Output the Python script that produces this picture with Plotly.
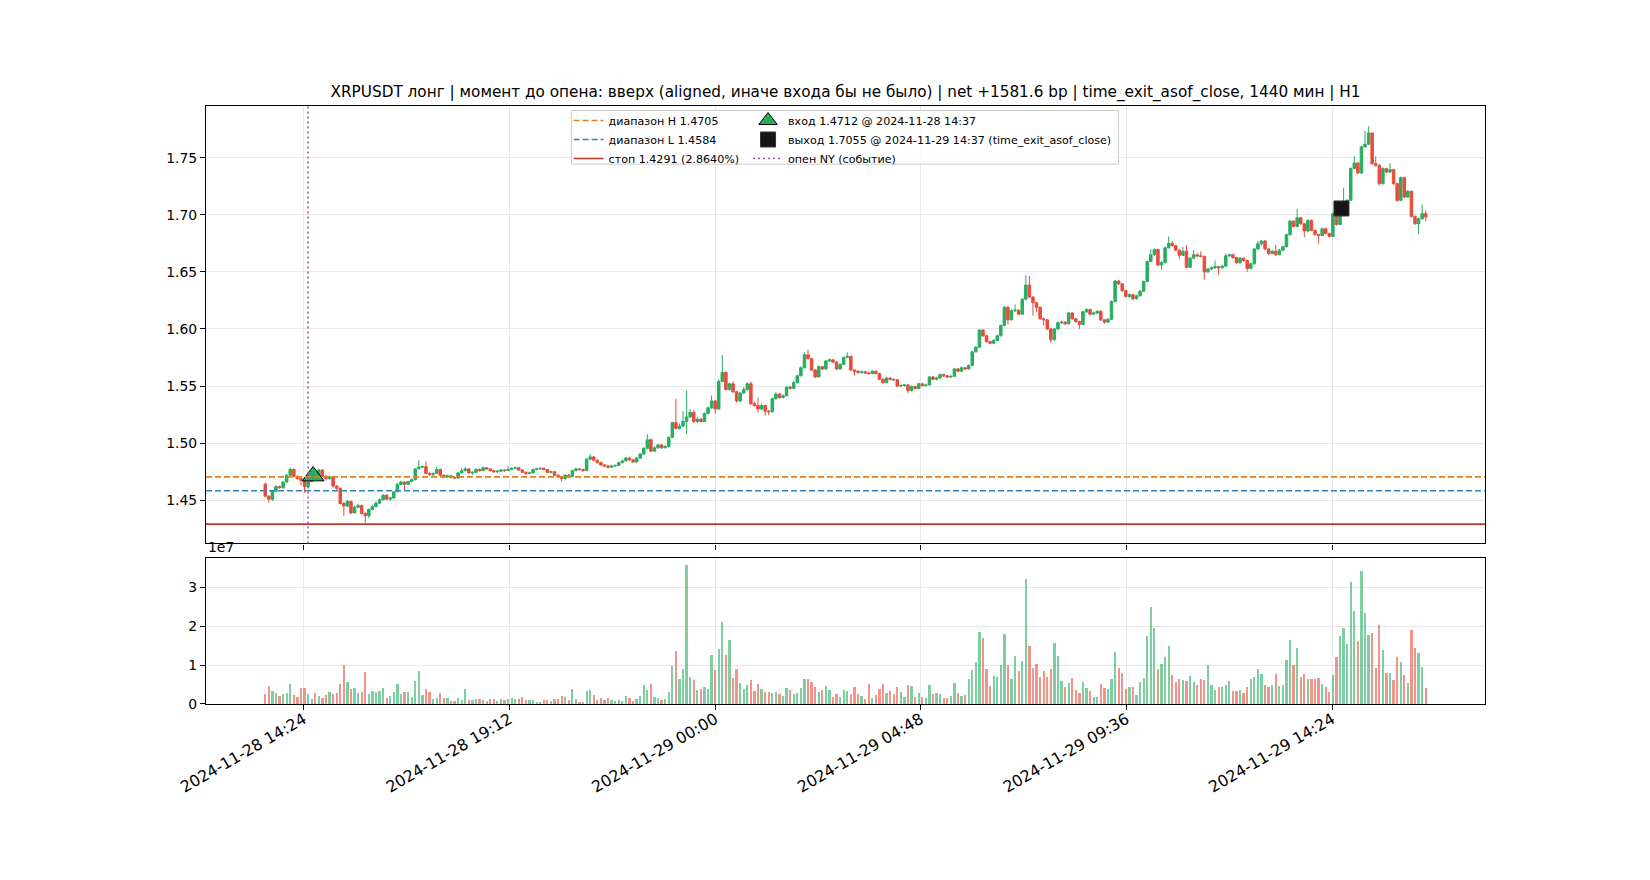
import pandas as pd
import plotly.graph_objects as go

# ---------------- data ----------------
symbol = "XRPUSDT"
start_time = "2024-11-28 13:30"
bar_freq = "5min"
open0 = 1.4641

close = [
 1.4536,1.4510,1.4580,1.4620,1.4610,1.4660,1.4720,1.4770,1.4710,1.4690,
 1.4675,1.4620,1.4665,1.4700,1.4690,1.4765,1.4710,1.4690,1.4705,1.4625,
 1.4605,1.4472,1.4450,1.4490,1.4390,1.4440,1.4455,1.4385,1.4365,1.4420,
 1.4445,1.4475,1.4505,1.4545,1.4510,1.4520,1.4575,1.4640,1.4660,1.4640,
 1.4665,1.4680,1.4775,1.4790,1.4795,1.4735,1.4725,1.4735,1.4770,1.4720,
 1.4705,1.4715,1.4700,1.4695,1.4740,1.4760,1.4775,1.4740,1.4745,1.4770,
 1.4760,1.4785,1.4775,1.4760,1.4750,1.4755,1.4765,1.4760,1.4770,1.4780,
 1.4785,1.4765,1.4745,1.4735,1.4740,1.4770,1.4775,1.4780,1.4770,1.4745,
 1.4750,1.4720,1.4705,1.4690,1.4720,1.4710,1.4760,1.4775,1.4770,1.4760,
 1.4860,1.4880,1.4850,1.4830,1.4810,1.4800,1.4790,1.4800,1.4805,1.4830,
 1.4845,1.4870,1.4855,1.4835,1.4870,1.4905,1.4955,1.5030,1.4930,1.4960,
 1.4985,1.4960,1.4970,1.5050,1.5180,1.5130,1.5150,1.5190,1.5230,1.5270,
 1.5190,1.5210,1.5190,1.5260,1.5310,1.5370,1.5300,1.5540,1.5620,1.5470,
 1.5520,1.5450,1.5370,1.5440,1.5470,1.5520,1.5345,1.5330,1.5300,1.5330,
 1.5280,1.5275,1.5390,1.5430,1.5400,1.5415,1.5490,1.5480,1.5530,1.5590,
 1.5660,1.5775,1.5740,1.5640,1.5580,1.5670,1.5650,1.5720,1.5730,1.5710,
 1.5650,1.5690,1.5750,1.5760,1.5640,1.5630,1.5620,1.5625,1.5615,1.5610,
 1.5630,1.5610,1.5560,1.5530,1.5570,1.5560,1.5555,1.5500,1.5505,1.5510,
 1.5460,1.5495,1.5480,1.5520,1.5505,1.5510,1.5580,1.5560,1.5570,1.5600,
 1.5590,1.5580,1.5585,1.5650,1.5630,1.5660,1.5650,1.5680,1.5800,1.5840,
 1.5990,1.5940,1.5890,1.5875,1.5900,1.5940,1.6030,1.6190,1.6080,1.6160,
 1.6165,1.6130,1.6260,1.6385,1.6280,1.6230,1.6190,1.6090,1.6080,1.6000,
 1.5905,1.6000,1.6055,1.6060,1.6045,1.6140,1.6090,1.6065,1.6040,1.6150,
 1.6170,1.6130,1.6140,1.6155,1.6080,1.6060,1.6085,1.6240,1.6420,1.6395,
 1.6335,1.6285,1.6300,1.6265,1.6290,1.6330,1.6415,1.6590,1.6650,1.6695,
 1.6560,1.6580,1.6710,1.6750,1.6730,1.6690,1.6645,1.6680,1.6540,1.6620,
 1.6650,1.6640,1.6635,1.6500,1.6525,1.6535,1.6545,1.6535,1.6550,1.6640,
 1.6650,1.6625,1.6580,1.6620,1.6600,1.6530,1.6570,1.6700,1.6745,1.6770,
 1.6700,1.6660,1.6680,1.6650,1.6690,1.6720,1.6825,1.6944,1.6898,1.6974,
 1.6921,1.6857,1.6950,1.6863,1.6827,1.6819,1.6877,1.6835,1.6810,1.7009,
 1.6915,1.6995,1.7100,1.7126,1.7404,1.7453,1.7365,1.7594,1.7617,1.7716,
 1.7447,1.7433,1.7272,1.7404,1.7374,1.7395,1.7272,1.7126,1.7325,1.7155,
 1.7205,1.6985,1.6921,1.6965,1.7009,1.6980,
]

high = [
 1.4655,1.4545,1.4590,1.4632,1.4630,1.4668,1.4728,1.4785,1.4778,1.4718,
 1.4698,1.4680,1.4672,1.4712,1.4720,1.4778,1.4772,1.4722,1.4715,1.4712,
 1.4635,1.4612,1.4485,1.4505,1.4498,1.4452,1.4470,1.4462,1.4395,1.4428,
 1.4460,1.4490,1.4518,1.4552,1.4552,1.4530,1.4582,1.4650,1.4672,1.4668,
 1.4672,1.4692,1.4782,1.4850,1.4805,1.4840,1.4745,1.4745,1.4795,1.4778,
 1.4728,1.4725,1.4722,1.4712,1.4748,1.4785,1.4790,1.4782,1.4758,1.4780,
 1.4778,1.4795,1.4792,1.4782,1.4768,1.4765,1.4775,1.4772,1.4800,1.4790,
 1.4795,1.4792,1.4772,1.4752,1.4750,1.4778,1.4785,1.4790,1.4788,1.4775,
 1.4760,1.4755,1.4728,1.4712,1.4728,1.4732,1.4768,1.4785,1.4782,1.4778,
 1.4868,1.4905,1.4888,1.4858,1.4838,1.4818,1.4808,1.4810,1.4815,1.4838,
 1.4855,1.4880,1.4878,1.4862,1.4878,1.4915,1.4965,1.5080,1.5040,1.4972,
 1.4995,1.4992,1.4982,1.5060,1.5190,1.5390,1.5172,1.5280,1.5460,1.5300,
 1.5290,1.5230,1.5222,1.5270,1.5320,1.5420,1.5380,1.5560,1.5771,1.5628,
 1.5530,1.5540,1.5460,1.5450,1.5490,1.5535,1.5540,1.5360,1.5400,1.5345,
 1.5338,1.5292,1.5400,1.5445,1.5438,1.5428,1.5500,1.5505,1.5545,1.5600,
 1.5672,1.5795,1.5820,1.5748,1.5648,1.5680,1.5678,1.5730,1.5742,1.5738,
 1.5718,1.5700,1.5760,1.5795,1.5768,1.5648,1.5640,1.5635,1.5632,1.5625,
 1.5640,1.5638,1.5618,1.5568,1.5580,1.5578,1.5568,1.5562,1.5515,1.5520,
 1.5518,1.5505,1.5502,1.5530,1.5528,1.5522,1.5590,1.5588,1.5580,1.5612,
 1.5608,1.5598,1.5595,1.5660,1.5658,1.5672,1.5668,1.5690,1.5810,1.5850,
 1.6000,1.5998,1.5948,1.5898,1.5912,1.5952,1.6040,1.6200,1.6198,1.6175,
 1.6215,1.6172,1.6270,1.6470,1.6465,1.6290,1.6238,1.6198,1.6100,1.6088,
 1.6010,1.6010,1.6065,1.6072,1.6068,1.6150,1.6148,1.6098,1.6072,1.6160,
 1.6180,1.6178,1.6152,1.6165,1.6162,1.6088,1.6095,1.6250,1.6430,1.6428,
 1.6400,1.6342,1.6312,1.6308,1.6300,1.6342,1.6425,1.6600,1.6700,1.6705,
 1.6702,1.6595,1.6722,1.6810,1.6770,1.6738,1.6698,1.6718,1.6735,1.6630,
 1.6690,1.6660,1.6680,1.6642,1.6535,1.6545,1.6600,1.6555,1.6562,1.6660,
 1.6660,1.6658,1.6632,1.6630,1.6628,1.6608,1.6580,1.6710,1.6770,1.6780,
 1.6778,1.6708,1.6692,1.6735,1.6700,1.6730,1.6835,1.6955,1.6950,1.7053,
 1.6982,1.6928,1.6960,1.6958,1.6870,1.6835,1.6888,1.6885,1.6845,1.7020,
 1.7018,1.7060,1.7237,1.7140,1.7415,1.7512,1.7460,1.7605,1.7734,1.7775,
 1.7722,1.7512,1.7440,1.7415,1.7412,1.7453,1.7402,1.7280,1.7335,1.7332,
 1.7215,1.7212,1.6992,1.6975,1.7090,1.7040,
]

low = [
 1.4525,1.4478,1.4495,1.4572,1.4600,1.4605,1.4655,1.4715,1.4702,1.4680,
 1.4630,1.4565,1.4610,1.4658,1.4680,1.4685,1.4700,1.4675,1.4680,1.4610,
 1.4590,1.4462,1.4365,1.4440,1.4380,1.4385,1.4432,1.4375,1.4305,1.4345,
 1.4412,1.4440,1.4470,1.4498,1.4500,1.4495,1.4515,1.4570,1.4632,1.4585,
 1.4632,1.4658,1.4675,1.4770,1.4782,1.4728,1.4715,1.4712,1.4730,1.4712,
 1.4695,1.4698,1.4690,1.4685,1.4690,1.4735,1.4752,1.4732,1.4722,1.4740,
 1.4752,1.4755,1.4768,1.4752,1.4742,1.4738,1.4748,1.4750,1.4755,1.4762,
 1.4772,1.4758,1.4738,1.4722,1.4728,1.4735,1.4762,1.4768,1.4762,1.4738,
 1.4735,1.4712,1.4695,1.4665,1.4682,1.4700,1.4705,1.4752,1.4760,1.4750,
 1.4755,1.4852,1.4842,1.4822,1.4800,1.4790,1.4778,1.4782,1.4792,1.4800,
 1.4822,1.4840,1.4845,1.4825,1.4830,1.4865,1.4898,1.4950,1.4922,1.4925,
 1.4952,1.4950,1.4955,1.4965,1.5045,1.5120,1.5120,1.5140,1.5080,1.5220,
 1.5180,1.5175,1.5180,1.5185,1.5252,1.5300,1.5260,1.5295,1.5535,1.5460,
 1.5460,1.5440,1.5355,1.5360,1.5430,1.5460,1.5335,1.5320,1.5270,1.5290,
 1.5240,1.5245,1.5268,1.5380,1.5390,1.5390,1.5410,1.5470,1.5475,1.5525,
 1.5585,1.5655,1.5732,1.5630,1.5570,1.5575,1.5640,1.5645,1.5712,1.5700,
 1.5640,1.5645,1.5685,1.5745,1.5632,1.5590,1.5610,1.5610,1.5605,1.5598,
 1.5602,1.5602,1.5550,1.5520,1.5525,1.5550,1.5545,1.5490,1.5490,1.5495,
 1.5440,1.5452,1.5470,1.5472,1.5495,1.5495,1.5505,1.5550,1.5550,1.5565,
 1.5580,1.5570,1.5572,1.5580,1.5622,1.5625,1.5640,1.5645,1.5675,1.5795,
 1.5835,1.5930,1.5880,1.5868,1.5870,1.5895,1.5935,1.6025,1.6040,1.6075,
 1.6150,1.6120,1.6125,1.6255,1.6270,1.6117,1.6150,1.6080,1.6030,1.5990,
 1.5880,1.5900,1.5995,1.6045,1.6035,1.6040,1.6080,1.6055,1.6000,1.6035,
 1.6140,1.6115,1.6122,1.6130,1.6070,1.6045,1.6050,1.6080,1.6235,1.6385,
 1.6325,1.6275,1.6272,1.6250,1.6255,1.6285,1.6325,1.6410,1.6585,1.6640,
 1.6550,1.6520,1.6575,1.6705,1.6722,1.6680,1.6610,1.6640,1.6530,1.6535,
 1.6612,1.6630,1.6625,1.6430,1.6490,1.6515,1.6528,1.6470,1.6525,1.6545,
 1.6632,1.6615,1.6570,1.6572,1.6590,1.6500,1.6522,1.6565,1.6692,1.6738,
 1.6690,1.6645,1.6652,1.6640,1.6645,1.6682,1.6715,1.6820,1.6890,1.6890,
 1.6912,1.6804,1.6850,1.6855,1.6818,1.6746,1.6812,1.6826,1.6800,1.6805,
 1.6905,1.6908,1.6990,1.7090,1.7120,1.7398,1.7355,1.7360,1.7588,1.7610,
 1.7438,1.7420,1.7260,1.7265,1.7365,1.7365,1.7262,1.7115,1.7120,1.7145,
 1.7148,1.6975,1.6912,1.6833,1.6958,1.6945,
]

volume_mln = [
 2.5,4.5,3.3,2.7,2.0,2.5,2.7,5.1,2.2,1.7,
 4.0,4.0,2.5,1.2,2.7,2.0,1.5,2.2,3.0,2.5,
 2.7,5.1,10.0,5.6,3.8,4.0,2.7,3.0,8.2,2.5,
 3.3,3.0,3.3,4.0,1.5,2.0,3.0,5.1,2.5,3.0,
 3.0,1.7,5.8,8.4,2.2,3.8,3.0,1.2,1.5,2.7,
 1.5,1.5,0.7,0.7,1.5,0.9,3.8,0.9,0.9,1.2,
 1.2,0.9,0.7,1.2,1.2,0.7,1.2,0.9,1.2,1.5,
 1.2,1.2,1.7,0.9,0.9,0.9,0.4,0.4,0.9,0.9,
 0.7,1.2,1.2,2.0,1.7,0.9,3.8,1.2,0.4,0.4,
 3.3,3.5,2.2,0.9,1.5,0.9,1.5,0.9,0.7,0.9,
 0.7,2.0,1.5,0.7,1.2,2.0,4.8,3.5,5.1,1.7,
 1.5,0.9,1.2,3.0,9.7,13.6,6.4,8.9,35.7,6.9,
 6.1,3.5,3.8,4.3,3.8,12.5,8.7,14.1,21.0,12.5,
 16.4,6.6,8.9,5.3,3.8,4.8,6.1,3.3,5.1,3.8,
 3.0,3.0,2.7,3.0,2.5,2.0,4.0,3.5,2.5,2.7,
 4.0,6.4,6.4,5.6,4.3,3.0,3.5,4.5,3.5,1.7,
 2.5,1.7,3.5,3.3,2.6,4.3,2.5,2.0,1.2,5.1,
 1.5,2.2,3.8,5.1,2.7,3.3,2.5,4.3,3.0,1.7,
 4.8,4.5,1.7,2.7,1.7,1.5,4.8,2.5,2.7,2.5,
 1.5,1.5,2.0,5.3,2.7,2.0,2.2,6.4,8.7,10.7,
 18.5,16.9,8.9,4.5,7.1,6.9,10.0,17.9,10.0,6.4,
 12.3,8.4,11.0,32.1,14.8,9.2,10.2,6.9,8.4,6.9,
 8.9,15.6,12.3,5.8,4.3,5.3,6.6,3.5,2.7,5.6,
 4.0,3.3,1.7,1.7,5.1,4.0,3.8,6.4,13.3,9.2,
 7.9,3.8,4.3,4.3,2.2,5.6,6.6,17.4,24.9,19.5,
 8.9,10.2,12.0,14.8,7.4,5.6,6.4,6.1,5.8,7.1,
 5.6,4.8,6.4,6.1,10.0,4.8,3.5,4.3,4.3,4.8,
 5.8,3.3,3.3,3.5,2.7,4.3,6.4,6.9,8.9,7.6,
 4.8,4.3,4.8,7.6,4.5,4.8,11.2,16.4,10.0,14.3,
 6.9,7.6,6.4,6.4,6.4,6.6,5.1,4.3,3.0,7.4,
 12.0,17.4,19.5,15.4,31.3,23.9,16.1,34.2,23.3,17.7,
 18.2,9.2,20.3,13.8,7.9,7.9,6.1,12.0,10.7,7.4,
 5.3,19.0,14.3,13.0,9.4,4.0,
]

range_h = 1.4705
range_l = 1.4584
stop_price = 1.4291
stop_pct = 2.8640
entry_time = "2024-11-28 14:37"
entry_price = 1.4712
exit_time = "2024-11-29 14:37"
exit_price = 1.7055
exit_reason = "time_exit_asof_close"
ny_open_time = "2024-11-28 14:30"
net_bp = 1581.6
hold_min = 1440

x_tick_vals = ["2024-11-28 14:24", "2024-11-28 19:12", "2024-11-29 00:00",
               "2024-11-29 04:48", "2024-11-29 09:36", "2024-11-29 14:24"]
price_ticks = [1.45, 1.50, 1.55, 1.60, 1.65, 1.70, 1.75]
vol_ticks = [0, 1e7, 2e7, 3e7]

# ---------------- derived ----------------
times = pd.date_range(start_time, periods=len(close), freq=bar_freq)
opens = [open0] + close[:-1]
volume = [v * 1e6 for v in volume_mln]

GREEN = "#27ae60"
RED = "#e74c3c"
GREEN_V = "rgba(39,174,96,0.6)"
RED_V = "rgba(231,76,60,0.6)"
ORANGE = "#e67e22"
BLUE = "#2e86c1"
STOP = "#c0392b"
PURPLE = "#9b59b6"
FONT = "DejaVu Sans"

vol_colors = [GREEN_V if c >= o else RED_V for o, c in zip(opens, close)]

fig = go.Figure()
fig.add_trace(go.Candlestick(
    x=times, open=opens, high=high, low=low, close=close,
    increasing=dict(line=dict(color=GREEN, width=1), fillcolor=GREEN),
    decreasing=dict(line=dict(color=RED, width=1), fillcolor=RED),
    whiskerwidth=0, showlegend=False, xaxis="x", yaxis="y", name=symbol,
))
fig.add_trace(go.Bar(
    x=times, y=volume, marker=dict(color=vol_colors, line=dict(width=0)),
    width=190000, showlegend=False, xaxis="x2", yaxis="y2", name="volume",
))
fig.add_trace(go.Scatter(
    x=[entry_time], y=[entry_price], mode="markers",
    marker=dict(symbol="triangle-up", size=19, color=GREEN,
                line=dict(color="black", width=1)),
    name=f"вход {entry_price:.4f} @ {entry_time}",
    legend="legend2", legendrank=1, xaxis="x", yaxis="y",
))
fig.add_trace(go.Scatter(
    x=[exit_time], y=[exit_price], mode="markers",
    marker=dict(symbol="square", size=15, color="#151515",
                line=dict(color="#333333", width=1)),
    name=f"выход {exit_price:.4f} @ {exit_time} ({exit_reason})",
    legend="legend2", legendrank=2, xaxis="x", yaxis="y",
))

shapes = [
    # legend frame (matplotlib style box)
    dict(type="rect", xref="paper", yref="paper", x0=0.2857, x1=0.7135,
         y0=0.9027, y1=0.9925, fillcolor="rgba(255,255,255,0.8)",
         line=dict(color="#cccccc", width=1), layer="above"),
    dict(type="line", xref="x domain", x0=0, x1=1, yref="y", y0=range_h, y1=range_h,
         line=dict(color=ORANGE, width=1.6, dash="6px,3px"), layer="above",
         showlegend=True, name=f"диапазон H {range_h:.4f}", legend="legend", legendrank=1),
    dict(type="line", xref="x domain", x0=0, x1=1, yref="y", y0=range_l, y1=range_l,
         line=dict(color=BLUE, width=1.6, dash="6px,3px"), layer="above",
         showlegend=True, name=f"диапазон L {range_l:.4f}", legend="legend", legendrank=2),
    dict(type="line", xref="x domain", x0=0, x1=1, yref="y", y0=stop_price, y1=stop_price,
         line=dict(color=STOP, width=1.7), layer="above",
         showlegend=True, name=f"стоп {stop_price:.4f} ({stop_pct:.4f}%)", legend="legend", legendrank=3),
    dict(type="line", xref="x", x0=ny_open_time, x1=ny_open_time, yref="y domain", y0=0, y1=1,
         line=dict(color=PURPLE, width=1.6, dash="2px,3px"), layer="above",
         showlegend=True, name="опен NY (событие)", legend="legend2", legendrank=3),
]

axis_common = dict(
    showline=True, linecolor="black", linewidth=1.1, mirror=True,
    ticks="outside", ticklen=5, tickwidth=1.1, tickcolor="black",
    showgrid=True, gridcolor="#e8e8e8", gridwidth=1, zeroline=False,
    tickfont=dict(family=FONT, size=13.9, color="black"),
)
x2_axis = dict(axis_common)
x2_axis["tickfont"] = dict(family=FONT, size=15.8, color="black")

title_text = (f"{symbol} лонг | момент до опена: вверх (aligned, иначе входа бы не было) | "
              f"net +{net_bp:.1f} bp | {exit_reason}, {hold_min} мин | H1")

fig.update_layout(
    width=1650, height=880,
    margin=dict(l=206, r=165, t=106, b=176, pad=0),
    paper_bgcolor="white", plot_bgcolor="white",
    font=dict(family=FONT, size=13.9, color="black"),
    title=dict(text=title_text, x=0.5, xref="paper", xanchor="center",
               y=1 - 91.5 / 880, yref="container", yanchor="middle",
               font=dict(family=FONT, size=15.28, color="black")),
    xaxis=dict(domain=[0, 1], anchor="y", type="date",
               range=["2024-11-28 12:07", "2024-11-29 17:58"],
               tickvals=x_tick_vals, showticklabels=False,
               rangeslider=dict(visible=False), **axis_common),
    xaxis2=dict(domain=[0, 1], anchor="y2", type="date", matches="x",
                range=["2024-11-28 12:07", "2024-11-29 17:58"],
                tickvals=x_tick_vals, ticktext=x_tick_vals, tickangle=-30,
                ticklabelstandoff=-6, **x2_axis),
    yaxis=dict(domain=[0.2684, 1], anchor="x", range=[1.4122, 1.7952],
               tickvals=price_ticks, tickformat=".2f", **axis_common),
    yaxis2=dict(domain=[0, 0.244], anchor="x2", range=[0, 3.75e7],
                tickvals=vol_ticks, ticktext=["0", "1", "2", "3"], **axis_common),
    shapes=shapes,
    legend=dict(x=0.2835, y=1.0, xanchor="left", yanchor="top",
                bgcolor="rgba(0,0,0,0)", borderwidth=0, itemwidth=30,
                tracegroupgap=0, font=dict(family=FONT, size=11.1, color="black")),
    legend2=dict(x=0.4238, y=1.0, xanchor="left", yanchor="top",
                 bgcolor="rgba(0,0,0,0)", borderwidth=0, itemwidth=30,
                 tracegroupgap=0, font=dict(family=FONT, size=11.1, color="black")),
    annotations=[dict(text="1e7", xref="paper", yref="paper", x=0, y=0.244,
                      xanchor="left", yanchor="bottom", yshift=1, showarrow=False,
                      font=dict(family=FONT, size=13.9, color="black"))],
    showlegend=True,
    bargap=0,
    boxgap=0,
    boxgroupgap=0.3,
)

fig.write_html("out.html", config={"displayModeBar": False},
               post_script="document.body.style.margin='0px';")
